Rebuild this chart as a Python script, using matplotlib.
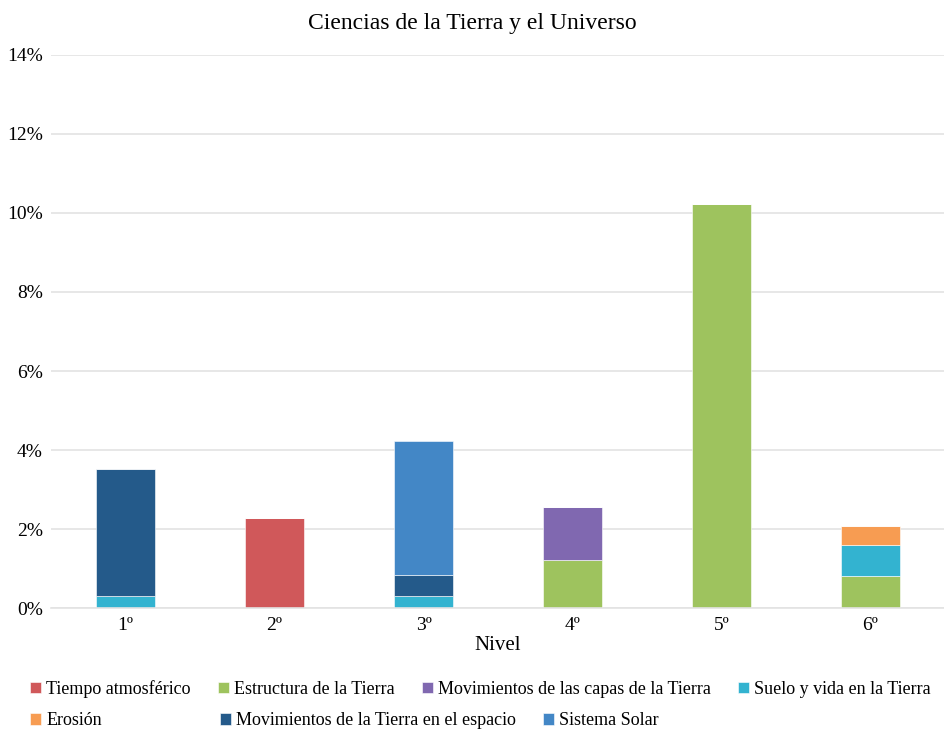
import numpy as np
import matplotlib.pyplot as plt
from matplotlib.ticker import PercentFormatter

plt.rcParams['font.family'] = ['Liberation Serif', 'DejaVu Serif']

niveles = ['1º', '2º', '3º', '4º', '5º', '6º']

series = ['Tiempo atmosférico', 'Estructura de la Tierra',
          'Movimientos de las capas de la Tierra', 'Suelo y vida en la Tierra',
          'Erosión', 'Movimientos de la Tierra en el espacio', 'Sistema Solar']
colores = ['#D0585A', '#9EC35E', '#8068B0', '#33B3D0', '#F79C52', '#245A8A', '#4387C6']

tiempo = [0, 2.28, 0, 0, 0, 0]
estructura = [0, 0, 0, 1.23, 10.23, 0.81]
capas = [0, 0, 0, 1.33, 0, 0]
suelo = [0.30, 0, 0.30, 0, 0, 0.78]
erosion = [0, 0, 0, 0, 0, 0.49]
mov_espacio = [3.22, 0, 0.54, 0, 0, 0]
sistema_solar = [0, 0, 3.38, 0, 0, 0]

valores = [tiempo, estructura, capas, suelo, erosion, mov_espacio, sistema_solar]

fig = plt.figure(figsize=(9.45, 7.31), dpi=100)
ax = fig.add_axes([0.054, 0.168, 0.946, 0.757])

x = np.arange(len(niveles))
base = np.zeros(len(niveles))
for nombre, vals, col in zip(series, valores, colores):
    vals = np.array(vals)
    ax.bar(x, vals, width=0.4, bottom=base, color=col, label=nombre,
           edgecolor='white', linewidth=0.4)
    base += vals

ax.set_ylim(0, 14)
ax.set_xlim(-0.5, len(niveles) - 0.5)
ax.set_yticks(np.arange(0, 15, 2))
ax.yaxis.set_major_formatter(PercentFormatter(decimals=0))
ax.set_xticks(x)
ax.set_xticklabels(niveles)
ax.tick_params(axis='both', length=0, labelsize=14, pad=6)
ax.grid(axis='y', color='#E3E3E3', linewidth=1.2)
ax.set_axisbelow(True)
for s in ['top', 'right', 'left']:
    ax.spines[s].set_visible(False)
ax.spines['bottom'].set_color('#E3E3E3')
ax.spines['bottom'].set_linewidth(1.2)

ax.set_xlabel('Nivel', fontsize=15, labelpad=2)
fig.text(0.5, 0.968, 'Ciencias de la Tierra y el Universo', ha='center',
         va='center', fontsize=17)

# legend laid out in rows like Excel
handles, labels = ax.get_legend_handles_labels()
opts = dict(frameon=False, fontsize=13, handlelength=0.6, handleheight=0.6,
            handletextpad=0.3, columnspacing=1.5, borderpad=0,
            borderaxespad=0, loc='center left')

fila1 = fig.legend(handles[:4], labels[:4], ncol=4,
                   bbox_to_anchor=(30 / 945, 0.0575), **opts)
fila2a = fig.legend(handles[4:5], labels[4:5], ncol=1,
                    bbox_to_anchor=(30 / 945, 0.0137), **opts)
fila2b = fig.legend(handles[5:], labels[5:], ncol=2,
                    bbox_to_anchor=(220 / 945, 0.0137), **opts)

fig.savefig('out.png', dpi=100)
